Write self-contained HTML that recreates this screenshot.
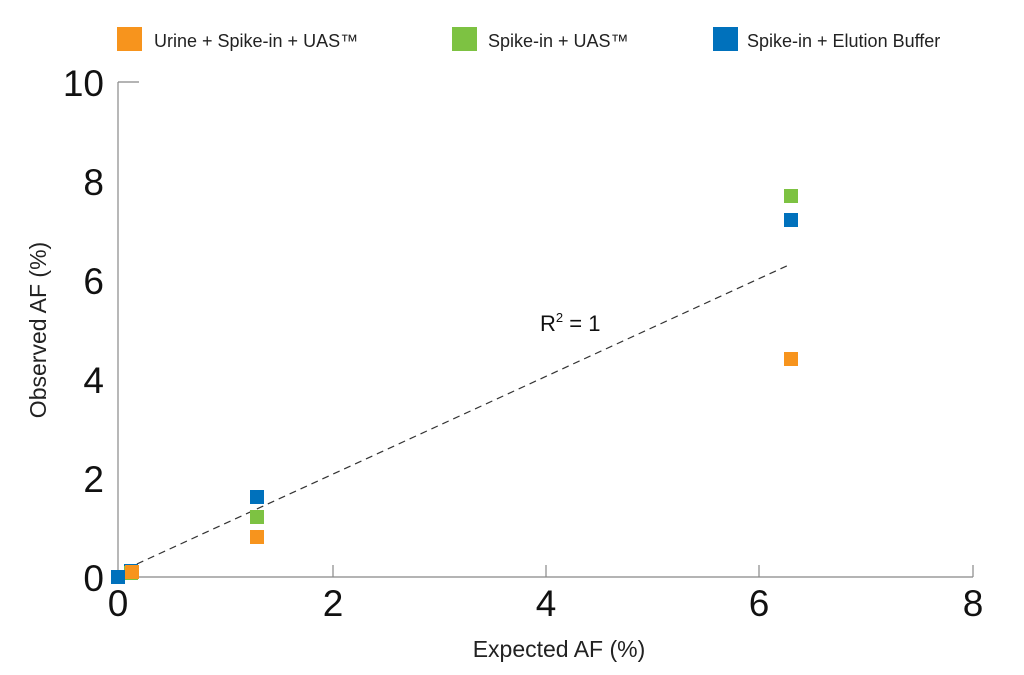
<!DOCTYPE html>
<html><head><meta charset="utf-8"><style>
body{margin:0;background:#fff;}
svg{display:block;font-family:"Liberation Sans",sans-serif;}
</style></head><body>
<svg width="1024" height="675" viewBox="0 0 1024 675">
<rect x="117" y="27" width="25" height="24" fill="#F7941D"/>
<text x="154" y="47" font-size="18" fill="#222">Urine + Spike-in + UAS™</text>
<rect x="452" y="27" width="25" height="24" fill="#7DC242"/>
<text x="488" y="47" font-size="18" fill="#222">Spike-in + UAS™</text>
<rect x="713" y="27" width="25" height="24" fill="#0071BC"/>
<text x="747" y="47" font-size="18" fill="#222">Spike-in + Elution Buffer</text>
<g stroke="#888" stroke-width="1.2" fill="none">
<path d="M118 82 H139 M118 82 V577 H973"/>
<path d="M333 565V577 M546 565V577 M759 565V577 M973 565V577"/>
</g>
<g font-size="37" fill="#111" text-anchor="end">
<text x="104" y="96">10</text>
<text x="104" y="195">8</text>
<text x="104" y="294">6</text>
<text x="104" y="393">4</text>
<text x="104" y="492">2</text>
<text x="104" y="591">0</text>
</g>
<g font-size="37" fill="#111" text-anchor="middle">
<text x="118" y="616">0</text>
<text x="333" y="616">2</text>
<text x="546" y="616">4</text>
<text x="759" y="616">6</text>
<text x="973" y="616">8</text>
</g>
<text x="559" y="657" font-size="23" text-anchor="middle" fill="#222">Expected AF (%)</text>
<text transform="translate(46 330) rotate(-90)" font-size="23" text-anchor="middle" fill="#222">Observed AF (%)</text>
<line x1="126" y1="569" x2="791" y2="264" stroke="#333" stroke-width="1.2" stroke-dasharray="7,5"/>
<text x="540" y="331" font-size="22" fill="#111">R<tspan font-size="13" dy="-9">2</tspan><tspan dy="9"> = 1</tspan></text>
<g>
<rect x="124" y="564" width="14" height="14" fill="#0071BC"/>
<rect x="124" y="566" width="14" height="14" fill="#7DC242"/>
<rect x="111" y="570" width="14" height="14" fill="#0071BC"/>
<rect x="125" y="565" width="14" height="14" fill="#F7941D"/>
<rect x="250" y="490" width="14" height="14" fill="#0071BC"/>
<rect x="250" y="510" width="14" height="14" fill="#7DC242"/>
<rect x="250" y="530" width="14" height="14" fill="#F7941D"/>
<rect x="784" y="189" width="14" height="14" fill="#7DC242"/>
<rect x="784" y="213" width="14" height="14" fill="#0071BC"/>
<rect x="784" y="352" width="14" height="14" fill="#F7941D"/>
</g>
</svg>
</body></html>
